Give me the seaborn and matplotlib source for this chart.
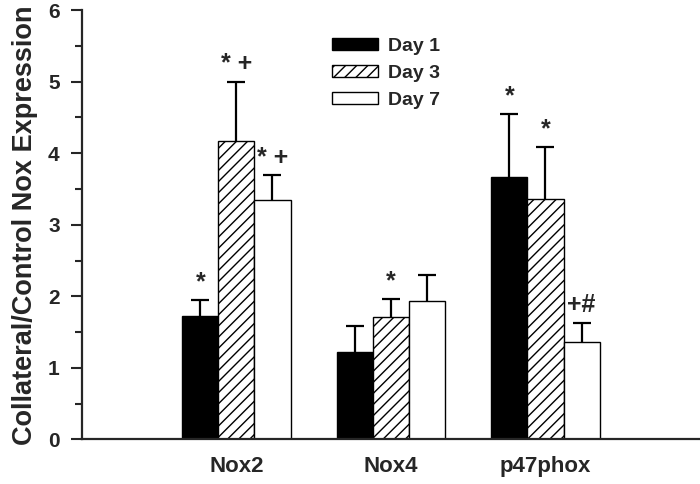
import numpy as np
import pandas as pd
import seaborn as sns
import matplotlib.pyplot as plt
from matplotlib.ticker import MultipleLocator

###

genes = ['Nox2', 'Nox4', 'p47phox']
days = ['Day 1', 'Day 3', 'Day 7']

day1_mean = [1.72, 1.22, 3.67]
day3_mean = [4.17, 1.71, 3.36]
day7_mean = [3.34, 1.94, 1.36]

day1_err = [0.23, 0.36, 0.88]
day3_err = [0.83, 0.25, 0.73]
day7_err = [0.35, 0.36, 0.27]

day1_sig = ['*', '', '*']
day3_sig = ['* +', '*', '*']
day7_sig = ['* +', '', '+#']

###

sns.set_style('ticks')
plt.rcParams['font.family'] = ['Liberation Sans', 'DejaVu Sans']
plt.rcParams['font.weight'] = 'bold'
plt.rcParams['hatch.linewidth'] = 1.0

df = pd.DataFrame({
    'gene': genes * 3,
    'day': [d for d in days for _ in genes],
    'value': day1_mean + day3_mean + day7_mean,
})
errs = [day1_err, day3_err, day7_err]
sigs = [day1_sig, day3_sig, day7_sig]

fig = plt.figure(figsize=(7, 4.84), dpi=100)
ax = fig.add_axes([0.117, 0.092, 0.883, 0.887])

sns.barplot(data=df, x='gene', y='value', hue='day', order=genes, hue_order=days,
            palette=['black', 'white', 'white'], width=0.7, errorbar=None,
            edgecolor='black', linewidth=1.0, saturation=1, legend=False, ax=ax)

bars = list(ax.containers)
for p in bars[1].patches:
    p.set_hatch('///')

for cont, err, sig in zip(bars, errs, sigs):
    xs = [p.get_x() + p.get_width() / 2 for p in cont.patches]
    ys = [p.get_height() for p in cont.patches]
    eb = ax.errorbar(xs, ys, yerr=[np.zeros(len(err)), err], fmt='none', ecolor='black',
                     elinewidth=1.6, capsize=6.5, capthick=1.6, zorder=3)
    eb[1][0].set_visible(False)  # hide the lower cap
    for x, y, e, s in zip(xs, ys, err, sig):
        if s:
            ax.text(x, y + e + 0.08, s, ha='center', va='bottom', fontsize=18,
                    fontweight='bold')

ax.legend(handles=[c.patches[0] for c in bars], labels=days,
          loc='upper left', bbox_to_anchor=(0.405, 0.935), frameon=False,
          borderpad=0, borderaxespad=0, handlelength=2.35, handleheight=0.6,
          handletextpad=0.5, labelspacing=0.5, prop={'size': 14, 'weight': 'bold'})

ax.set_xlim(-1.0, 3.0)
ax.set_ylim(0, 6)
ax.yaxis.set_major_locator(MultipleLocator(1))
ax.yaxis.set_minor_locator(MultipleLocator(0.5))
ax.tick_params(axis='y', which='major', direction='out', length=8, width=1.5,
               labelsize=15, pad=8)
ax.tick_params(axis='y', which='minor', direction='out', length=5, width=1.5)
ax.tick_params(axis='x', length=0, labelsize=16, pad=12)
for lab in ax.get_xticklabels() + ax.get_yticklabels():
    lab.set_fontweight('bold')

sns.despine(ax=ax)
ax.spines['left'].set_linewidth(1.6)
ax.spines['bottom'].set_linewidth(1.6)

ax.set_xlabel('')
ax.set_ylabel('Collateral/Control Nox Expression', fontsize=19.5, fontweight='bold',
              labelpad=7)

plt.savefig('out.png', dpi=100)
